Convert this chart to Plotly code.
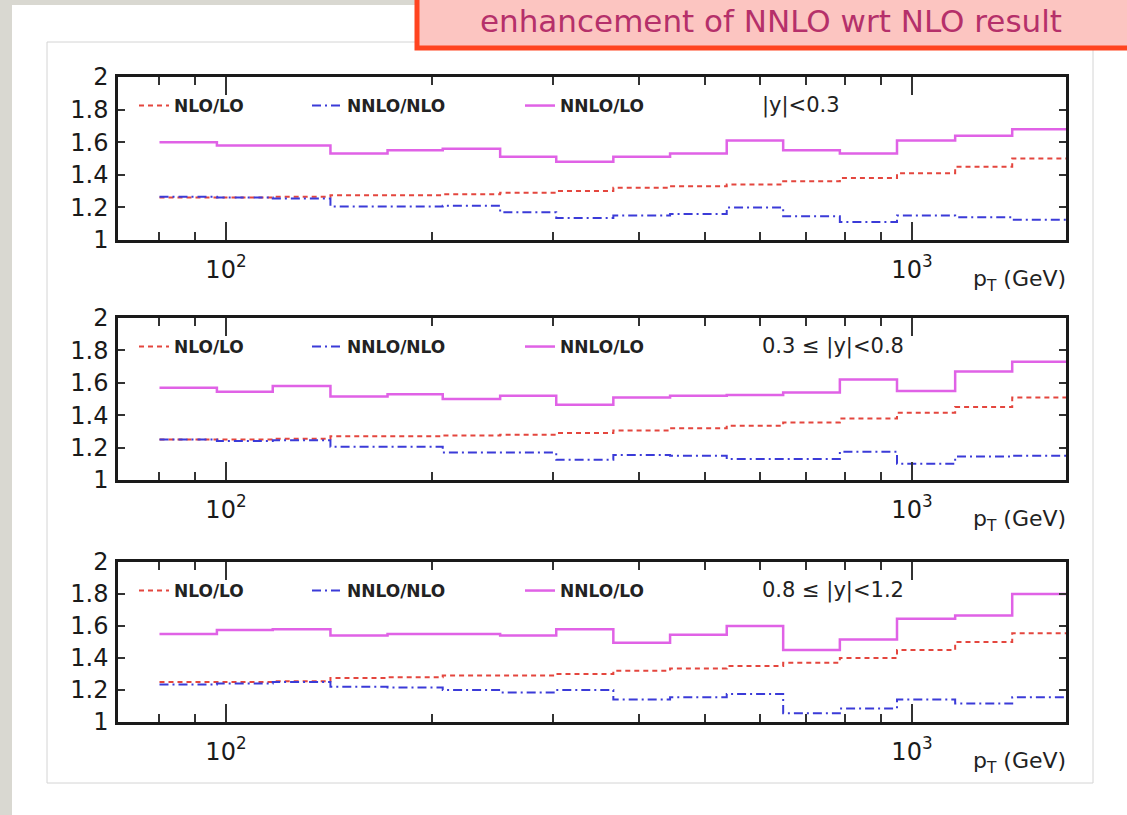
import math
import plotly.graph_objects as go

W, H = 1127, 815

# ---------------- data ----------------
pt_edges = [80, 97, 117, 142, 172, 207, 251, 303, 367, 444, 537, 649, 785, 951, 1156, 1400, 1677]

# |y| < 0.3
nlo_lo_1   = [1.26, 1.26, 1.265, 1.275, 1.275, 1.28, 1.29, 1.30, 1.32, 1.33, 1.34, 1.36, 1.38, 1.41, 1.45, 1.50]
nnlo_nlo_1 = [1.265, 1.26, 1.255, 1.205, 1.205, 1.21, 1.17, 1.135, 1.15, 1.16, 1.20, 1.145, 1.11, 1.15, 1.14, 1.125]
nnlo_lo_1  = [1.60, 1.58, 1.58, 1.53, 1.55, 1.56, 1.51, 1.48, 1.51, 1.53, 1.61, 1.55, 1.53, 1.61, 1.64, 1.68]

# 0.3 <= |y| < 0.8
nlo_lo_2   = [1.25, 1.25, 1.255, 1.27, 1.27, 1.275, 1.28, 1.29, 1.305, 1.32, 1.335, 1.355, 1.38, 1.415, 1.45, 1.51]
nnlo_nlo_2 = [1.25, 1.24, 1.245, 1.205, 1.205, 1.17, 1.17, 1.125, 1.155, 1.15, 1.13, 1.13, 1.175, 1.10, 1.145, 1.15]
nnlo_lo_2  = [1.57, 1.545, 1.58, 1.515, 1.53, 1.50, 1.52, 1.465, 1.51, 1.52, 1.525, 1.54, 1.62, 1.55, 1.67, 1.73]

# 0.8 <= |y| < 1.2
nlo_lo_3   = [1.25, 1.25, 1.255, 1.275, 1.28, 1.29, 1.29, 1.30, 1.32, 1.335, 1.35, 1.37, 1.40, 1.45, 1.50, 1.555]
nnlo_nlo_3 = [1.235, 1.24, 1.25, 1.22, 1.215, 1.20, 1.185, 1.20, 1.14, 1.155, 1.175, 1.055, 1.085, 1.14, 1.115, 1.155]
nnlo_lo_3  = [1.55, 1.575, 1.58, 1.54, 1.55, 1.55, 1.54, 1.58, 1.495, 1.545, 1.60, 1.45, 1.515, 1.645, 1.665, 1.80]

series_names = ["NLO/LO", "NNLO/NLO", "NNLO/LO"]
region_labels = ["|y|<0.3", "0.3 \u2264 |y|<0.8", "0.8 \u2264 |y|<1.2"]
y_tickvals = [1, 1.2, 1.4, 1.6, 1.8, 2]
y_ticktext = ["1", "1.2", "1.4", "1.6", "1.8", "2"]
x_major = [100, 1000]
x_major_text = ["10<sup>2</sup>", "10<sup>3</sup>"]
x_minor = [80, 90, 200, 300, 400, 500, 600, 700, 800, 900]
header_text = "enhancement of NNLO wrt NLO result"

panels = [
    [nlo_lo_1, nnlo_nlo_1, nnlo_lo_1],
    [nlo_lo_2, nnlo_nlo_2, nnlo_lo_2],
    [nlo_lo_3, nnlo_nlo_3, nnlo_lo_3],
]

# ---------------- styling / layout ----------------
FONT = "DejaVu Sans"
styles = [
    dict(color="#e4463e", width=2, dash="5px,4px"),
    dict(color="#3b3bd8", width=2, dash="9px,4px,2px,4px"),
    dict(color="#e062e6", width=2.5, dash="solid"),
]

px_x = lambda p: p / W
px_y = lambda p: 1 - p / H

frame_left, frame_right = 118, 1066
panel_px = [(77, 240), (318, 480), (562, 722)]
legend_line_starts = [137, 310, 523]

fig = go.Figure()

layout = dict(
    width=W, height=H, autosize=False,
    margin=dict(l=0, r=0, t=0, b=0, pad=0, autoexpand=False),
    paper_bgcolor="#d9d8d1",
    plot_bgcolor="white",
    showlegend=True,
    font=dict(family=FONT, color="#1a1a1a"),
)

xr = [math.log10(69.6), math.log10(1677)]
annotations = []
for i, data in enumerate(panels):
    k = i + 1
    xa = "x" if k == 1 else f"x{k}"
    ya = "y" if k == 1 else f"y{k}"
    top, bot = panel_px[i]
    for s, vals in enumerate(data):
        li = 3 * i + s + 1
        lname = "legend" if li == 1 else f"legend{li}"
        fig.add_trace(go.Scatter(
            x=pt_edges, y=vals + [vals[-1]], mode="lines",
            line=dict(shape="hv", **styles[s]),
            name=series_names[s], legend=lname,
            xaxis=xa, yaxis=ya, hoverinfo="skip",
        ))
        layout[lname] = dict(
            x=px_x(legend_line_starts[s] - 3), y=px_y((top + 29)),
            xanchor="left", yanchor="middle",
            orientation="h", bgcolor="rgba(0,0,0,0)", borderwidth=0,
            font=dict(family=FONT, size=17, color="#222222", weight="bold"),
        )
    axname_x = "xaxis" if k == 1 else f"xaxis{k}"
    axname_y = "yaxis" if k == 1 else f"yaxis{k}"
    layout[axname_x] = dict(
        type="log", range=xr, domain=[px_x(frame_left), px_x(frame_right)],
        anchor=ya, showline=True, linecolor="#1a1a1a", linewidth=2.5,
        mirror="ticks", ticks="inside", tickvals=x_major, ticktext=x_major_text,
        ticklen=18, tickwidth=2, tickcolor="#333333",
        minor=dict(tickmode="array", tickvals=x_minor, ticks="inside",
                   ticklen=8, tickwidth=1.5, tickcolor="#333333", showgrid=False),
        showgrid=False, zeroline=False, automargin=False,
        tickfont=dict(family=FONT, size=24, color="#1a1a1a"),
        ticklabelstandoff=6,
    )
    layout[axname_y] = dict(
        range=[1, 2], domain=[px_y(bot), px_y(top)], anchor=xa,
        showline=True, linecolor="#1a1a1a", linewidth=2.5, mirror="ticks",
        ticks="inside", tickvals=y_tickvals, ticktext=y_ticktext,
        ticklen=7, tickwidth=1.5, tickcolor="#333333",
        showgrid=False, zeroline=False, automargin=False,
        tickfont=dict(family=FONT, size=24, color="#1a1a1a"),
        ticklabelstandoff=2,
    )
    annotations.append(dict(
        text=region_labels[i], x=px_x(760), y=px_y(top + 28),
        xref="paper", yref="paper", xanchor="left", yanchor="middle",
        showarrow=False, font=dict(family=FONT, size=21, color="#222222"),
    ))
    annotations.append(dict(
        text="p<sub>T</sub> (GeV)", x=px_x(1068), y=px_y(bot + 40),
        xref="paper", yref="paper", xanchor="right", yanchor="middle",
        showarrow=False, font=dict(family=FONT, size=22, color="#222222"),
    ))

annotations.append(dict(
    text=header_text, x=px_x(771), y=px_y(21),
    xref="paper", yref="paper", xanchor="center", yanchor="middle",
    showarrow=False, font=dict(family=FONT, size=31, color="#b5306a"),
))

shapes = [
    dict(type="rect", xref="paper", yref="paper", layer="below",
         x0=px_x(12), x1=1.02, y0=-0.02, y1=px_y(5),
         fillcolor="white", line=dict(width=0)),
    dict(type="rect", xref="paper", yref="paper", layer="below",
         x0=px_x(47), x1=px_x(1093), y0=px_y(783), y1=px_y(42),
         fillcolor="white", line=dict(color="#d4d4d4", width=1)),
    dict(type="rect", xref="paper", yref="paper", layer="above",
         x0=px_x(417), x1=1.03, y0=px_y(48), y1=1.03,
         fillcolor="#fcc5c1", line=dict(color="#ff4420", width=5)),
]

layout["annotations"] = annotations
layout["shapes"] = shapes
fig.update_layout(**layout)

fig.write_html("out.html")
